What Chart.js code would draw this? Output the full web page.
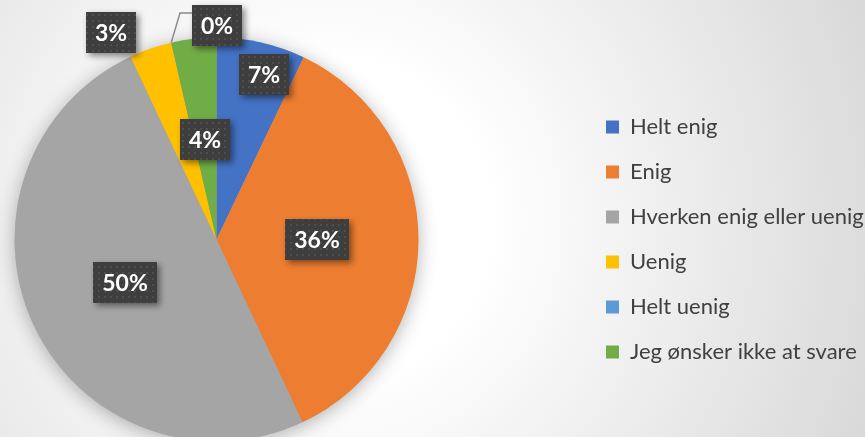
<!DOCTYPE html>
<html>
<head>
<meta charset="utf-8">
<script src="https://cdn.jsdelivr.net/npm/chart.js@4.4.1/dist/chart.umd.min.js"></script>
<style>
  html, body { margin: 0; padding: 0; width: 865px; height: 437px; overflow: hidden; }
  body { background: radial-gradient(circle at 330px 220px, #ffffff 0px, #ffffff 160px, #d3d3d3 640px); }
  #wrap { position: absolute; left: -150px; top: 0; width: 1023px; height: 437px; }
</style>
</head>
<body>
<div id="wrap"><canvas id="c"></canvas></div>
<script>
// ---- data ----
const categories = ['Helt enig', 'Enig', 'Hverken enig eller uenig', 'Uenig', 'Helt uenig', 'Jeg ønsker ikke at svare'];
const shares = [7.1, 35.9, 50, 3.4, 0, 3.6];
const sliceColors = ['#4472C4', '#ED7D31', '#A5A5A5', '#FFC000', '#5B9BD5', '#70AD47'];

// ---- label placement (fraction of radius, angle shift in degrees) ----
const labelPlacement = [
  { dist: 0.85, turn: 3.2 },
  { dist: 0.5, turn: 0 },
  { dist: 0.5, turn: 0 },
  { dist: 1.15, turn: -7.8 },
  { dist: 1.06, turn: 13.2, leader: true },
  { dist: 0.5, turn: 0 }
];

const LEGEND_WIDTH = 290;

function makePattern(ctx) {
  const t = document.createElement('canvas');
  t.width = 6; t.height = 6;
  const g = t.getContext('2d');
  g.fillStyle = '#3e3e3e';
  g.fillRect(0, 0, 6, 6);
  g.fillStyle = '#4e4e4e';
  g.fillRect(2, 2, 2, 2);
  return ctx.createPattern(t, 'repeat');
}

const pieShadow = {
  id: 'pieShadow',
  beforeDatasetsDraw(chart) {
    const arc = chart.getDatasetMeta(0).data[0];
    if (!arc) return;
    const ctx = chart.ctx;
    ctx.save();
    ctx.shadowColor = 'rgba(0,0,0,0.32)';
    ctx.shadowBlur = 20;
    ctx.shadowOffsetY = 3;
    ctx.fillStyle = '#A5A5A5';
    ctx.beginPath();
    ctx.arc(arc.x, arc.y, arc.outerRadius - 1, 0, Math.PI * 2);
    ctx.fill();
    ctx.restore();
  }
};

const fixedLegend = {
  id: 'fixedLegend',
  beforeInit(chart) {
    const orig = chart.legend.fit;
    chart.legend.fit = function () {
      orig.call(this);
      this.width = LEGEND_WIDTH;
    };
  }
};

const boxLabels = {
  id: 'boxLabels',
  afterDraw(chart) {
    const ctx = chart.ctx;
    const meta = chart.getDatasetMeta(0);
    const pattern = makePattern(ctx);
    ctx.save();
    ctx.font = 'bold 23px Lato';
    meta.data.forEach((arc, i) => {
      const p = labelPlacement[i];
      const mid = (arc.startAngle + arc.endAngle) / 2 + p.turn * Math.PI / 180;
      const rr = arc.outerRadius * p.dist;
      const cx = arc.x + Math.cos(mid) * rr;
      const cy = arc.y + Math.sin(mid) * rr;
      const text = Math.round(shares[i]) + '%';
      const tw = ctx.measureText(text).width;
      const w = Math.round(tw + 18), h = 41;
      const left = Math.round(cx - w / 2), top = Math.round(cy - h / 2);
      if (p.leader) {
        const a = arc.startAngle;
        const ex = arc.x + Math.cos(a) * arc.outerRadius;
        const ey = arc.y + Math.sin(a) * arc.outerRadius;
        ctx.save();
        ctx.strokeStyle = '#8a8a8a';
        ctx.lineWidth = 1.5;
        ctx.beginPath();
        ctx.moveTo(left, top + 8);
        ctx.lineTo(left - 12, top + 8);
        ctx.lineTo(ex, ey);
        ctx.stroke();
        ctx.restore();
      }
      ctx.save();
      ctx.shadowColor = 'rgba(0,0,0,0.45)';
      ctx.shadowBlur = 6;
      ctx.shadowOffsetX = 3;
      ctx.shadowOffsetY = 3;
      ctx.fillStyle = pattern;
      ctx.fillRect(left, top, w, h);
      ctx.restore();
      ctx.fillStyle = '#ffffff';
      ctx.textAlign = 'center';
      ctx.textBaseline = 'middle';
      ctx.fillText(text, left + w / 2, top + h / 2 + 1);
    });
    ctx.restore();
  }
};

new Chart(document.getElementById('c'), {
  type: 'pie',
  data: {
    labels: categories,
    datasets: [{
      data: shares,
      backgroundColor: sliceColors,
      borderWidth: 0,
      radius: 202
    }]
  },
  options: {
    responsive: true,
    maintainAspectRatio: false,
    animation: false,
    layout: { padding: { left: 0, right: 0, top: 42, bottom: 0 } },
    plugins: {
      tooltip: { enabled: false },
      legend: {
        position: 'right',
        align: 'center',
        labels: {
          boxWidth: 13,
          boxHeight: 13,
          padding: 23,
          color: '#404040',
          font: { family: 'Lato', size: 22 }
        }
      }
    }
  },
  plugins: [fixedLegend, pieShadow, boxLabels]
});
</script>
</body>
</html>
